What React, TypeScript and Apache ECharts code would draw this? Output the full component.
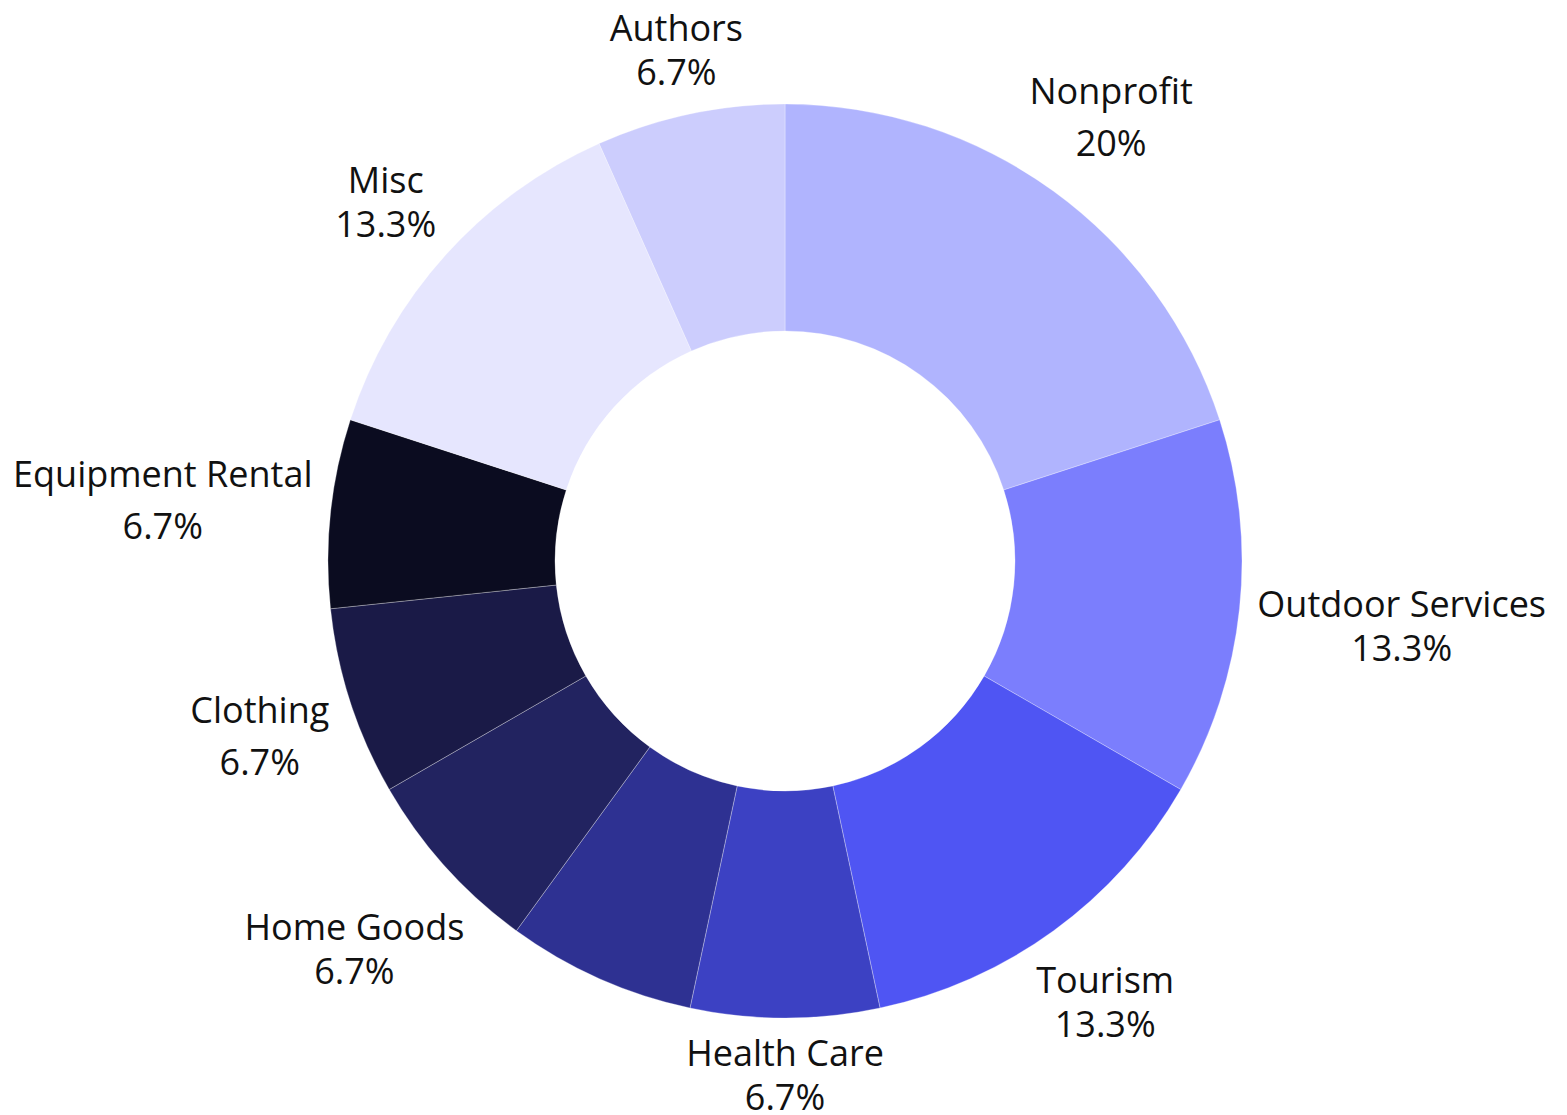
import React, { useEffect, useRef } from 'react';
import * as echarts from 'echarts';

// Slices in clockwise order starting at 12 o'clock
const categories = [
  'Nonprofit',
  'Outdoor Services',
  'Tourism',
  'Health Care',
  '',
  'Home Goods',
  'Clothing',
  'Equipment Rental',
  'Misc',
  'Authors',
];
const values = [3, 2, 2, 1, 1, 1, 1, 1, 2, 1];
const colors = [
  '#b0b4fe',
  '#7b7efd',
  '#4f55f3',
  '#3c41c3',
  '#2e3192',
  '#222360',
  '#1a1a47',
  '#0b0c20',
  '#e6e6fe',
  '#cccdfd',
];
const hiddenLabelIndices = [4];

export default function App() {
  const ref = useRef<HTMLDivElement>(null);

  useEffect(() => {
    document.body.style.margin = '0';
    const chart = echarts.init(ref.current!, null, { renderer: 'svg' });
    const cx = 785;
    const cy = 561;
    const rOuter = 457;
    const rInner = 230;
    const gap = 16;
    const total = values.reduce((a, b) => a + b, 0);
    const midAngle = (i: number) => {
      let s = 0;
      for (let k = 0; k < i; k++) s += values[k];
      return ((s + values[i] / 2) / total) * 2 * Math.PI;
    };
    const pct = (v: number) => {
      const s = ((v / total) * 100).toFixed(1);
      return s.endsWith('.0') ? s.slice(0, -2) : s;
    };

    chart.setOption({
      animation: false,
      backgroundColor: '#ffffff',
      textStyle: { fontFamily: 'Open Sans' },
      series: [
        {
          type: 'pie',
          center: [cx, cy],
          radius: [rInner, rOuter],
          startAngle: 90,
          clockwise: true,
          avoidLabelOverlap: false,
          itemStyle: { borderColor: 'rgba(255,255,255,0.5)', borderWidth: 0.6 },
          label: {
            show: true,
            position: 'outside',
            fontFamily: 'Open Sans',
            color: '#111111',
            formatter: (p: any) => {
              const key = /[gjpqy]/.test(p.name) ? 'nd' : 'n';
              return `{${key}|${p.name}}\n{p|${pct(p.value)}%}`;
            },
            rich: {
              n: { fontFamily: 'Open Sans', fontSize: 36, lineHeight: 44, color: '#111111', align: 'center' },
              nd: { fontFamily: 'Open Sans', fontSize: 36, lineHeight: 60, color: '#111111', align: 'center' },
              p: { fontFamily: 'Open Sans', fontSize: 36, lineHeight: 44, color: '#111111', align: 'center' },
            },
          },
          labelLine: { show: false },
          labelLayout: (params: any) => {
            const i = params.dataIndex;
            const a = midAngle(i);
            const ux = Math.sin(a);
            const uy = -Math.cos(a);
            const hw = params.labelRect.width / 2;
            const hh = params.labelRect.height / 2;
            const R0 = rOuter + gap;
            const near = (d: number) => {
              const bx = ux * d;
              const by = uy * d;
              const px = Math.max(bx - hw, Math.min(0, bx + hw));
              const py = Math.max(by - hh, Math.min(0, by + hh));
              return Math.hypot(px, py);
            };
            let lo = 0;
            let hi = 3000;
            for (let it = 0; it < 60; it++) {
              const m = (lo + hi) / 2;
              if (near(m) < R0) lo = m;
              else hi = m;
            }
            const d = (lo + hi) / 2;
            return {
              x: cx + ux * d,
              y: cy + uy * d,
              align: 'center',
              verticalAlign: 'middle',
            };
          },
          data: categories.map((name, i) => ({
            name,
            value: values[i],
            itemStyle: { color: colors[i] },
            label: hiddenLabelIndices.includes(i) ? { show: false } : undefined,
          })),
        },
      ],
    });

    return () => chart.dispose();
  }, []);

  return <div ref={ref} style={{ width: 1567, height: 1115 }} />;
}
